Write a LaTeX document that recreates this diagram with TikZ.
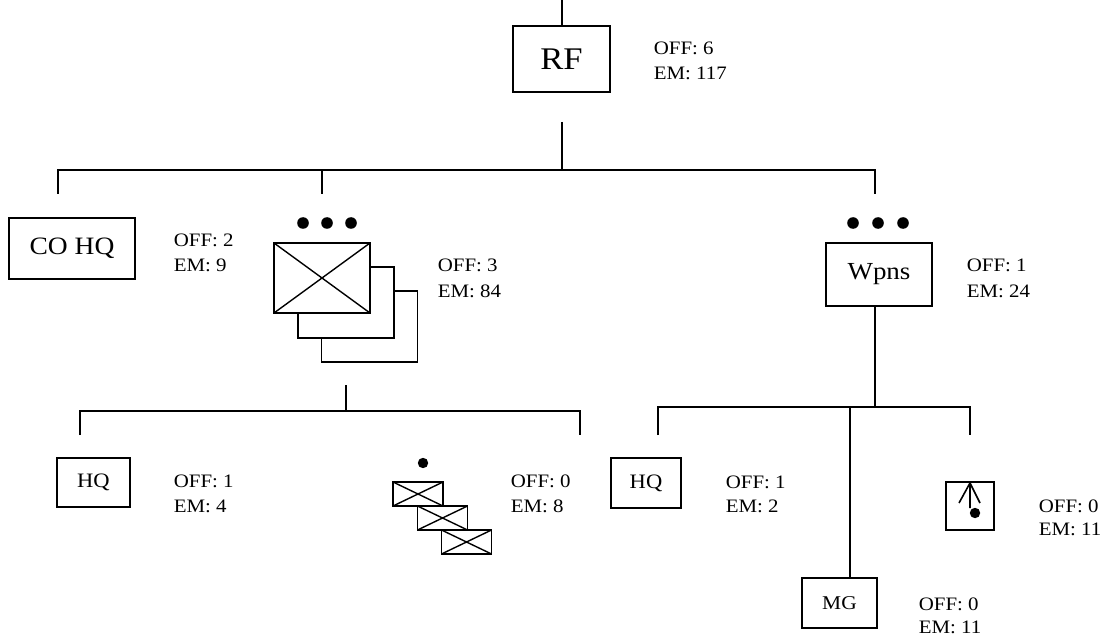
\documentclass[tikz,border=0pt]{standalone}
\usepackage{fontspec}
\setmainfont{Liberation Serif}[FakeStretch=1.1]
\newcommand\myfs[1]{\fontsize{#1}{#1}\selectfont}
\begin{document}
\begin{tikzpicture}[x=1pt,y=-1pt,line width=1.7pt,
  box/.style={draw,inner sep=0pt,fill=white},
  xbox/.style={box,path picture={\draw[line width=1.4pt] (path picture bounding box.north west)--(path picture bounding box.south east) (path picture bounding box.north east)--(path picture bounding box.south west);}},
  lbl/.style={anchor=base west,inner sep=0pt,font=\myfs{19}},
  dot/.style={fill=black,draw=none}]
\useasboundingbox (0,0) rectangle (1105,636);
% top level
\node[box,minimum width=97,minimum height=66,font=\myfs{31.5}] (rf) at (561.5,59) {RF};
\node[lbl] (rfoff) at (653,55) {OFF: 6};
\node[lbl] (rfem) at (653,80) {EM: 117};
\coordinate (top) at (562,0);
\draw (top) -- (top |- rf.north);
\coordinate (a0) at (562,122);
\coordinate (a1) at (562,170);
\draw (a0) -- (a1);
\coordinate (h1l) at (58,170);
\coordinate (h1m) at (322,170);
\coordinate (h1r) at (875,170);
\coordinate (d1) at (58,194);
\coordinate (d2) at (322,194);
\coordinate (d3) at (875,194);
\draw (d1) -- (h1l) -- (h1r) -- (d3);
\draw (h1m) -- (d2);
% CO HQ
\node[box,minimum width=126,minimum height=61,font=\myfs{25}] (cohq) at (72,248.5) {CO HQ};
\node[lbl] (cooff) at (173,247) {OFF: 2};
\node[lbl] (coem) at (173,272) {EM: 9};
% infantry stack
\node[box,minimum width=96,minimum height=71] (inf3) at (369.5,326.5) {};
\node[box,minimum width=96,minimum height=71] (inf2) at (346,302.5) {};
\node[xbox,minimum width=96,minimum height=70] (inf) at (322,278) {};
\fill[dot] (303,223) circle (5.8) (327,223) circle (5.8) (351,223) circle (5.8);
\node[lbl] (infoff) at (437,272) {OFF: 3};
\node[lbl] (infem) at (437,297) {EM: 84};
% Wpns
\node[box,minimum width=106,minimum height=63,font=\myfs{24.5}] (wpns) at (879,274.5) {Wpns};
\fill[dot] (853,223) circle (5.8) (878,223) circle (5.8) (903,223) circle (5.8);
\node[lbl] (wpoff) at (966,272) {OFF: 1};
\node[lbl] (wpem) at (966,297) {EM: 24};
% left sub-level
\coordinate (s0) at (346,385);
\coordinate (s1) at (346,411);
\coordinate (h2l) at (80,411);
\coordinate (h2r) at (580,411);
\coordinate (e1) at (80,435);
\coordinate (e2) at (580,435);
\draw (s0) -- (s1);
\draw (e1) -- (h2l) -- (h2r) -- (e2);
\node[box,minimum width=73,minimum height=49,font=\myfs{20.5}] (hq1) at (93.5,482.5) {HQ};
\node[lbl] (hq1off) at (173,487) {OFF: 1};
\node[lbl] (hq1em) at (173,512) {EM: 4};
\node[xbox,minimum width=50,minimum height=24] (sq3) at (466.5,542) {};
\node[xbox,minimum width=50,minimum height=24] (sq2) at (442.5,518) {};
\node[xbox,minimum width=50,minimum height=24] (sq1) at (418,494) {};
\fill[dot] (423,463) circle (5.2);
\node[lbl] (sqoff) at (510,487) {OFF: 0};
\node[lbl] (sqem) at (510,512) {EM: 8};
% right sub-level
\coordinate (r1) at (875,407);
\coordinate (h3l) at (658,407);
\coordinate (h3m) at (850,407);
\coordinate (h3r) at (970,407);
\coordinate (f1) at (658,435);
\coordinate (f3) at (970,435);
\draw (r1 |- wpns.south) -- (r1);
\draw (f1) -- (h3l) -- (h3r) -- (f3);
\node[box,minimum width=70,minimum height=50,font=\myfs{20.5}] (hq2) at (646,483) {HQ};
\node[lbl] (hq2off) at (725,488) {OFF: 1};
\node[lbl] (hq2em) at (725,512) {EM: 2};
\node[box,minimum width=75,minimum height=50,font=\myfs{19.5}] (mg) at (839.5,603) {MG};
\draw (h3m) -- (h3m |- mg.north);
\node[lbl] (mgoff) at (918,610) {OFF: 0};
\node[lbl] (mgem) at (918,633) {EM: 11};
\node[box,minimum width=48,minimum height=48] (mor) at (970,506) {};
\draw[line width=1.6pt] (959,503) -- (970,483) -- (980,503) (970,483) -- (970,508);
\fill[dot] (975,513) circle (5.2);
\node[lbl] (moroff) at (1038,512) {OFF: 0};
\node[lbl] (morem) at (1038,535) {EM: 11};
\end{tikzpicture}
\end{document}
